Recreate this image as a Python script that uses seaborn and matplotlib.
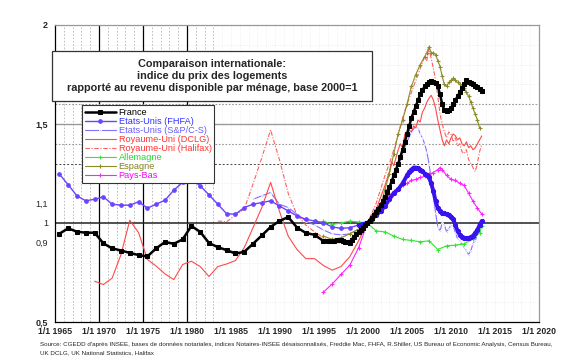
import matplotlib
matplotlib.use("Agg")
import matplotlib.pyplot as plt
import seaborn as sns
from matplotlib.patches import Rectangle

# ---- data (indice base 2000 = 1) ----
fr_years = [1965.5, 1966.5, 1967.5, 1968.5, 1969.5, 1970.5, 1971.5, 1972.5, 1973.5, 1974.5,
            1975.5, 1976.5, 1977.5, 1978.5, 1979.5, 1980.5, 1981.5, 1982.5, 1983.5, 1984.5,
            1985.5, 1986.5, 1987.5, 1988.5, 1989.5, 1990.5, 1991.5, 1992.5, 1993.5, 1994.5,
            1995.5, 1996.0, 1996.25, 1996.5, 1996.75, 1997.0, 1997.25, 1997.5, 1997.75, 1998.0,
            1998.25, 1998.5, 1998.75, 1999.0, 1999.25, 1999.5, 1999.75, 2000.0, 2000.25, 2000.5,
            2000.75, 2001.0, 2001.25, 2001.5, 2001.75, 2002.0, 2002.25, 2002.5, 2002.75, 2003.0,
            2003.25, 2003.5, 2003.75, 2004.0, 2004.25, 2004.5, 2004.75, 2005.0, 2005.25, 2005.5,
            2005.75, 2006.0, 2006.25, 2006.5, 2006.75, 2007.0, 2007.25, 2007.5, 2007.75, 2008.0,
            2008.25, 2008.5, 2008.75, 2009.0, 2009.25, 2009.5, 2009.75, 2010.0, 2010.25, 2010.5,
            2010.75, 2011.0, 2011.25, 2011.5, 2011.75, 2012.0, 2012.25, 2012.5, 2012.75, 2013.0,
            2013.25, 2013.5]
fr_vals = [0.946, 0.973, 0.956, 0.951, 0.951, 0.897, 0.872, 0.861, 0.849, 0.838,
           0.831, 0.872, 0.904, 0.895, 0.917, 0.985, 0.955, 0.899, 0.878, 0.863,
           0.846, 0.854, 0.895, 0.937, 0.980, 1.010, 1.030, 0.977, 0.950, 0.940,
           0.909, 0.908, 0.907, 0.909, 0.910, 0.912, 0.913, 0.912, 0.910, 0.905,
           0.902, 0.900, 0.915, 0.930, 0.945, 0.955, 0.965, 0.975, 0.988, 1.000,
           1.012, 1.027, 1.042, 1.058, 1.073, 1.090, 1.110, 1.130, 1.155, 1.180,
           1.210, 1.240, 1.270, 1.300, 1.335, 1.370, 1.410, 1.450, 1.490, 1.530,
           1.560, 1.590, 1.620, 1.650, 1.670, 1.690, 1.700, 1.710, 1.715, 1.710,
           1.705, 1.690, 1.650, 1.600, 1.570, 1.565, 1.570, 1.580, 1.600, 1.620,
           1.640, 1.660, 1.680, 1.700, 1.720, 1.710, 1.705, 1.700, 1.690, 1.685,
           1.675, 1.665]

fhfa_years = [1965.5, 1966.5, 1967.5, 1968.5, 1969.5, 1970.5, 1971.5, 1972.5, 1973.5, 1974.5,
              1975.5, 1976.5, 1977.5, 1978.5, 1979.5, 1980.5, 1981.5, 1982.5, 1983.5, 1984.5,
              1985.5, 1986.5, 1987.5, 1988.5, 1989.5, 1990.5, 1991.5, 1992.5, 1993.5, 1994.5,
              1995.5, 1996.5, 1997.5, 1998.5, 1999.5]
fhfa_vals = [1.247, 1.193, 1.137, 1.112, 1.120, 1.132, 1.095, 1.090, 1.090, 1.107,
             1.075, 1.095, 1.115, 1.166, 1.205, 1.222, 1.188, 1.142, 1.095, 1.047,
             1.044, 1.078, 1.095, 1.103, 1.112, 1.086, 1.061, 1.036, 1.019, 1.010,
             1.002, 0.980, 0.973, 0.976, 0.990]
fhfa_q_years = [1999.5, 2000.0, 2000.5, 2001.0, 2001.5, 2002.0, 2002.5, 2003.0, 2003.5, 2004.0,
                2004.5, 2005.0, 2005.25, 2005.5, 2005.75, 2006.0, 2006.25, 2006.5, 2006.75, 2007.0,
                2007.25, 2007.5, 2007.75, 2008.0, 2008.25, 2008.5, 2008.75, 2009.0, 2009.25, 2009.5,
                2009.75, 2010.0, 2010.25, 2010.5, 2010.75, 2011.0, 2011.25, 2011.5, 2011.75, 2012.0,
                2012.25, 2012.5, 2012.75, 2013.0, 2013.25, 2013.5]
fhfa_q_vals = [0.990, 0.995, 1.000, 1.020, 1.040, 1.060, 1.085, 1.120, 1.150, 1.170,
               1.200, 1.240, 1.258, 1.270, 1.280, 1.280, 1.276, 1.270, 1.262, 1.250,
               1.240, 1.230, 1.200, 1.160, 1.110, 1.075, 1.060, 1.052, 1.048, 1.045,
               1.040, 1.030, 1.020, 0.990, 0.960, 0.940, 0.930, 0.925, 0.924, 0.925,
               0.928, 0.935, 0.950, 0.965, 0.990, 1.010]

sp_years = [1987.5, 1988.5, 1989.5, 1990.5, 1991.5, 1992.5, 1993.5, 1994.5, 1995.5, 1996.5,
            1997.5, 1998.5, 1999.5, 2000.5, 2001.0, 2001.5, 2002.0, 2002.5, 2003.0, 2003.5,
            2004.0, 2004.5, 2005.0, 2005.5, 2006.0, 2006.25, 2006.5, 2006.75, 2007.0, 2007.25,
            2007.5, 2007.75, 2008.0, 2008.25, 2008.5, 2008.75, 2009.0, 2009.25, 2009.5, 2009.75,
            2010.0, 2010.25, 2010.5, 2010.75, 2011.0, 2011.25, 2011.5, 2011.75, 2012.0, 2012.25,
            2012.5, 2012.75, 2013.0, 2013.25]
sp_vals = [1.120, 1.137, 1.154, 1.095, 1.078, 1.044, 1.010, 0.990, 0.965, 0.945,
           0.940, 0.945, 0.970, 1.000, 1.030, 1.060, 1.090, 1.130, 1.180, 1.230,
           1.290, 1.350, 1.410, 1.460, 1.490, 1.480, 1.450, 1.430, 1.400, 1.360,
           1.300, 1.220, 1.140, 1.050, 0.980, 0.960, 1.000, 0.990, 0.955, 0.970,
           0.990, 0.985, 0.950, 0.920, 0.910, 0.890, 0.875, 0.860, 0.840, 0.860,
           0.895, 0.910, 0.940, 0.985]

dclg_years = [1969.5, 1970.5, 1971.5, 1972.5, 1973.5, 1974.5, 1975.5, 1976.5, 1977.5, 1978.5,
              1979.5, 1980.5, 1981.5, 1982.5, 1983.5, 1984.5, 1985.5, 1986.5, 1987.5, 1988.5,
              1989.5, 1990.5, 1991.5, 1992.5, 1993.5, 1994.5, 1995.5, 1996.5, 1997.5, 1998.5,
              1999.5, 2000.5, 2001.0, 2001.5, 2002.0, 2002.5, 2003.0, 2003.25, 2003.5, 2003.75,
              2004.0, 2004.25, 2004.5, 2004.75, 2005.0, 2005.25, 2005.5, 2005.75, 2006.0, 2006.25,
              2006.5, 2006.75, 2007.0, 2007.25, 2007.5, 2007.75, 2008.0, 2008.25, 2008.5, 2008.75,
              2009.0, 2009.25, 2009.5, 2009.75, 2010.0, 2010.25, 2010.5, 2010.75, 2011.0, 2011.25,
              2011.5, 2011.75, 2012.0, 2012.25, 2012.5, 2012.75, 2013.0, 2013.25, 2013.5]
dclg_vals = [0.706, 0.689, 0.722, 0.841, 1.014, 0.951, 0.816, 0.782, 0.743, 0.714,
             0.790, 0.807, 0.780, 0.730, 0.780, 0.793, 0.810, 0.875, 0.976, 1.078,
             1.205, 1.060, 0.934, 0.866, 0.820, 0.820, 0.785, 0.762, 0.780, 0.830,
             0.910, 1.000, 1.030, 1.070, 1.130, 1.190, 1.260, 1.310, 1.290, 1.330,
             1.370, 1.400, 1.380, 1.450, 1.440, 1.470, 1.460, 1.490, 1.480, 1.520,
             1.510, 1.560, 1.580, 1.610, 1.630, 1.645, 1.620, 1.580, 1.520, 1.470,
             1.420, 1.390, 1.420, 1.400, 1.430, 1.450, 1.440, 1.420, 1.430, 1.400,
             1.390, 1.410, 1.380, 1.390, 1.370, 1.380, 1.400, 1.420, 1.440]

hal_years = [1983.5, 1984.5, 1985.5, 1986.5, 1987.5, 1988.5, 1989.5, 1990.5, 1991.5, 1992.5,
             1993.5, 1994.5, 1995.5, 1996.5, 1997.5, 1998.5, 1999.5, 2000.5, 2001.0, 2001.5,
             2002.0, 2002.5, 2003.0, 2003.5, 2004.0, 2004.5, 2005.0, 2005.5, 2006.0, 2006.5,
             2006.75, 2007.0, 2007.25, 2007.5, 2007.75, 2008.0, 2008.25, 2008.5, 2008.75, 2009.0,
             2009.25, 2009.5, 2009.75, 2010.0, 2010.25, 2010.5, 2010.75, 2011.0, 2011.25, 2011.5,
             2011.75, 2012.0, 2012.25, 2012.5, 2012.75, 2013.0, 2013.25, 2013.5]
hal_vals = [1.010, 1.006, 1.040, 1.070, 1.196, 1.330, 1.470, 1.320, 1.150, 1.040,
            0.990, 0.955, 0.925, 0.900, 0.900, 0.915, 0.960, 1.000, 1.050, 1.100,
            1.170, 1.240, 1.300, 1.370, 1.450, 1.530, 1.600, 1.660, 1.720, 1.780,
            1.810, 1.840, 1.820, 1.880, 1.830, 1.780, 1.720, 1.640, 1.550, 1.500,
            1.460, 1.430, 1.460, 1.450, 1.410, 1.430, 1.390, 1.400, 1.360, 1.350,
            1.370, 1.320, 1.300, 1.280, 1.260, 1.300, 1.360, 1.400]

de_years = [1995.5, 1996.5, 1997.5, 1998.5, 1999.5, 2000.5, 2001.5, 2002.5, 2003.5, 2004.5,
            2005.5, 2006.5, 2007.5, 2008.5, 2009.5, 2010.5, 2011.5, 2012.5, 2013.25, 2013.5]
de_vals = [1.010, 0.993, 1.000, 1.010, 1.005, 1.000, 0.960, 0.955, 0.934, 0.917,
           0.912, 0.905, 0.910, 0.866, 0.885, 0.888, 0.895, 0.920, 0.950, 0.985]

es_years = [1995.5, 1996.5, 1997.5, 1998.5, 1999.5, 2000.5, 2001.0, 2001.5, 2002.0, 2002.5,
            2003.0, 2003.5, 2004.0, 2004.5, 2005.0, 2005.5, 2006.0, 2006.5, 2007.0, 2007.25,
            2007.5, 2007.75, 2008.0, 2008.25, 2008.5, 2008.75, 2009.0, 2009.25, 2009.5, 2009.75,
            2010.0, 2010.25, 2010.5, 2010.75, 2011.0, 2011.25, 2011.5, 2011.75, 2012.0, 2012.25,
            2012.5, 2012.75, 2013.0, 2013.25]
es_vals = [0.934, 0.917, 0.925, 0.946, 0.968, 1.000, 1.030, 1.060, 1.090, 1.170,
           1.250, 1.350, 1.450, 1.520, 1.600, 1.690, 1.750, 1.800, 1.840, 1.860,
           1.890, 1.860, 1.860, 1.850, 1.820, 1.790, 1.740, 1.700, 1.690, 1.710,
           1.720, 1.730, 1.720, 1.710, 1.700, 1.690, 1.680, 1.660, 1.640, 1.610,
           1.580, 1.550, 1.520, 1.480]

nl_years = [1995.5, 1996.5, 1997.5, 1998.5, 1999.5, 2000.5, 2001.0, 2001.5, 2002.0, 2002.5,
            2003.0, 2003.5, 2004.0, 2004.5, 2005.0, 2005.5, 2006.0, 2006.5, 2007.0, 2007.5,
            2008.0, 2008.5, 2008.75, 2009.0, 2009.5, 2010.0, 2010.5, 2011.0, 2011.5, 2012.0,
            2012.5, 2013.0, 2013.5]
nl_vals = [0.651, 0.692, 0.740, 0.787, 0.875, 1.000, 1.040, 1.070, 1.100, 1.120,
           1.140, 1.160, 1.170, 1.190, 1.200, 1.215, 1.220, 1.230, 1.235, 1.245,
           1.255, 1.270, 1.280, 1.270, 1.240, 1.220, 1.215, 1.200, 1.190, 1.150,
           1.110, 1.075, 1.045]

xtick_years = [1965, 1970, 1975, 1980, 1985, 1990, 1995, 2000, 2005, 2010, 2015, 2020]
ytick_vals = [0.5, 0.9, 1.0, 1.1, 1.5, 2.0]
ytick_labels = ["0,5", "0,9", "1", "1,1", "1,5", "2"]

title_lines = ["Comparaison internationale:",
               "indice du prix des logements",
               "rapporté au revenu disponible par ménage, base 2000=1"]
source_lines = ["Source: CGEDD d'après INSEE, bases de données notariales, indices Notaires-INSEE désaisonnalisés, "
                "Freddie Mac, FHFA, R.Shiller, US Bureau of Economic Analysis, Census Bureau,",
                "UK DCLG, UK National Statistics, Halifax"]

sns.set_style("white")
plt.rcParams["font.family"] = ["Liberation Sans", "DejaVu Sans"]

fig = plt.figure(figsize=(5.71, 3.64), dpi=100)
ax = fig.add_axes([55 / 571, 1 - 322 / 364, 484 / 571, 297 / 364])

# grid lines
for yr in range(1966, 2020):
    if yr in (1970, 1975, 1980):
        ax.axvline(yr, color="black", lw=0.9, zorder=1)
    elif yr <= 1983:
        ax.axvline(yr, color="#b4b4b4", lw=0.6, ls=(0, (2, 2)), zorder=0)
    else:
        ax.axvline(yr, color="#e4e4e4", lw=0.5, ls=(0, (1, 2)), zorder=0)
for v in [0.6, 0.7, 0.8, 1.2, 1.7, 1.8, 1.9]:
    ax.axhline(v, color="#e4e4e4", lw=0.5, ls=(0, (1, 2)), zorder=0)
ax.axhline(1.6, color="#999999", lw=0.8, ls=(0, (1.5, 1.5)), zorder=1)
ax.axhline(1.4, color="#999999", lw=0.8, ls=(0, (1.5, 1.5)), zorder=1)
ax.axhline(1.3, color="#444444", lw=0.7, ls=(0, (2, 2)), zorder=1)
ax.axhline(1.5, color="#999999", lw=1.0, zorder=1)
ax.axhline(1.0, color="#222222", lw=1.1, zorder=1)

# series
sns.lineplot(x=fr_years, y=fr_vals, ax=ax, color="black", lw=1.8, marker="s", markersize=2.6,
             markeredgecolor="black", label="France", sort=False, estimator=None, zorder=5)
sns.lineplot(x=fhfa_years, y=fhfa_vals, ax=ax, color="#6a44ff", lw=1.0, marker="o", markersize=2.6,
             markeredgecolor="#6a44ff", label="Etats-Unis (FHFA)", sort=False, estimator=None, zorder=4)
sns.lineplot(x=fhfa_q_years, y=fhfa_q_vals, ax=ax, color="#3a12ee", lw=2.8, marker="o", markersize=3,
             markeredgecolor="#3a12ee", legend=False, sort=False, estimator=None, zorder=4)
sns.lineplot(x=sp_years, y=sp_vals, ax=ax, color="#8070ff", lw=0.8, marker=".", markersize=2.5,
             label="Etats-Unis (S&P/C-S)", sort=False, estimator=None, zorder=3)
sns.lineplot(x=dclg_years, y=dclg_vals, ax=ax, color="#ff4a4a", lw=0.8,
             label="Royaume-Uni (DCLG)", sort=False, estimator=None, zorder=3)
sns.lineplot(x=hal_years, y=hal_vals, ax=ax, color="#ff6060", lw=0.8, ls=(0, (4, 1.5, 1, 1.5)),
             label="Royaume-Uni (Halifax)", sort=False, estimator=None, zorder=3)
sns.lineplot(x=de_years, y=de_vals, ax=ax, color="#33e633", lw=0.8, marker="+", markersize=3.5,
             markeredgewidth=0.8, markeredgecolor="#33e633", label="Allemagne", sort=False,
             estimator=None, zorder=3)
sns.lineplot(x=es_years, y=es_vals, ax=ax, color="#8c8c28", lw=0.8, marker="+", markersize=3.5,
             markeredgewidth=0.8, markeredgecolor="#8c8c28", label="Espagne", sort=False,
             estimator=None, zorder=3)
sns.lineplot(x=nl_years, y=nl_vals, ax=ax, color="#ff22ff", lw=0.8, marker="+", markersize=3.5,
             markeredgewidth=0.8, markeredgecolor="#ff22ff", label="Pays-Bas", sort=False,
             estimator=None, zorder=3)

ax.set_xlim(1965, 2020)
ax.set_ylim(0.5, 2.0)
ax.set_xticks(xtick_years)
ax.set_xticklabels(["1/1 %d" % y for y in xtick_years], fontsize=6.3, fontweight="bold")
ax.set_yticks(ytick_vals)
ax.set_yticklabels(ytick_labels, fontsize=6.5)
for lab, txt in zip(ax.get_yticklabels(), ytick_labels):
    if txt in ("0,5", "1,5", "2"):
        lab.set_fontweight("bold")
ax.tick_params(axis="both", length=3, width=0.7, color="black", pad=2, direction="out")
ax.tick_params(axis="x", length=2, pad=1.5)
ax.set_xlabel("")
ax.set_ylabel("")
ax.spines["left"].set_color("black")
ax.spines["bottom"].set_color("black")
ax.spines["top"].set_color("#999999")
ax.spines["right"].set_color("#999999")
for s in ax.spines.values():
    s.set_linewidth(0.9)

leg = ax.legend(loc="upper left", bbox_to_anchor=(0.046, 0.745), fontsize=6.6, frameon=True,
                fancybox=False, edgecolor="#333333", framealpha=1, borderpad=0.3,
                labelspacing=0.0, handlelength=3.4, handletextpad=0.3)
leg.get_frame().set_linewidth(0.8)
leg_colors = ["black", "#3333ff", "#6a5cff", "#ff3333", "#ff3333", "#22dd22", "#808020", "#ff00ff"]
for t, c in zip(leg.get_texts(), leg_colors):
    t.set_color(c)
leg.set_zorder(10)

# title box
fig.patches.append(Rectangle((52 / 571, 1 - 101 / 364), 320 / 571, 50 / 364, transform=fig.transFigure,
                             facecolor="white", edgecolor="#333333", lw=0.9, zorder=10))
fig.text(212 / 571, 1 - 76 / 364, "\n".join(title_lines), ha="center", va="center", fontsize=7.8,
         fontweight="bold", linespacing=1.25, zorder=11)

fig.text(40 / 571, 1 - 344.5 / 364, source_lines[0], fontsize=4.5, va="center")
fig.text(40 / 571, 1 - 353 / 364, source_lines[1], fontsize=4.5, va="center")

plt.savefig("out.png", dpi=100)
plt.close()
